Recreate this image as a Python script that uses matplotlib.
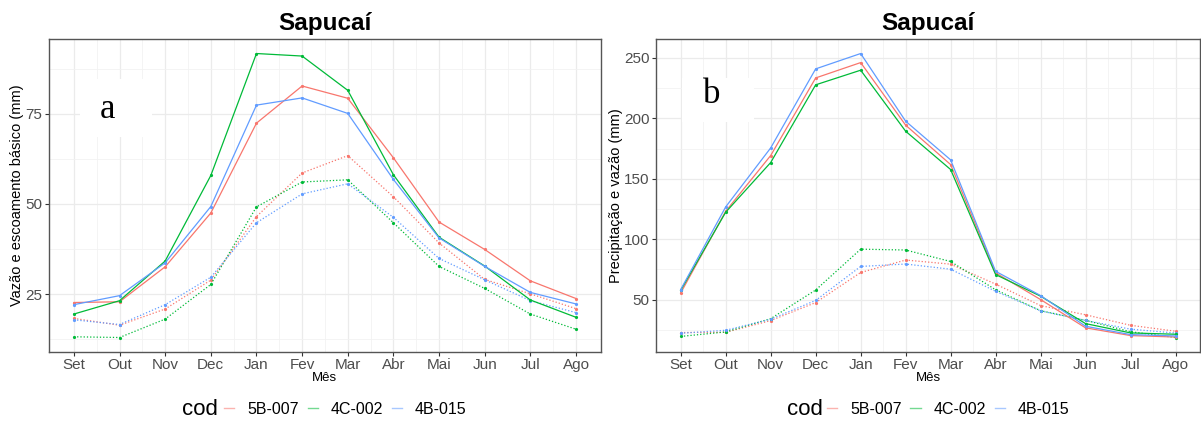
import matplotlib
matplotlib.use("Agg")
import matplotlib.pyplot as plt
from matplotlib.lines import Line2D
from matplotlib.patches import Rectangle
from matplotlib.ticker import FixedLocator

plt.rcParams['font.family'] = ['Liberation Sans', 'DejaVu Sans']

meses = ['Set', 'Out', 'Nov', 'Dec', 'Jan', 'Fev', 'Mar', 'Abr', 'Mai', 'Jun', 'Jul', 'Ago']
estacoes = ['5B-007', '4C-002', '4B-015']
cores = ['#F8766D', '#00BA38', '#619CFF']

# vazao media mensal (mm)
vazao_5B007 = [22.7, 22.9, 32.6, 47.5, 72.4, 82.7, 79.3, 62.8, 45.0, 37.4, 28.7, 23.8]
vazao_4C002 = [19.5, 23.2, 34.2, 57.9, 91.7, 91.0, 81.5, 58.1, 40.8, 32.8, 23.4, 18.6]
vazao_4B015 = [22.1, 24.6, 33.7, 49.3, 77.4, 79.4, 75.1, 56.8, 40.6, 32.7, 25.5, 22.3]

# escoamento basico (mm)
base_5B007 = [18.3, 16.4, 20.9, 28.9, 46.5, 58.6, 63.4, 52.0, 39.2, 29.1, 25.1, 21.0]
base_4C002 = [13.2, 13.0, 18.1, 27.7, 49.2, 56.1, 56.7, 44.8, 32.7, 26.6, 19.5, 15.3]
base_4B015 = [17.9, 16.6, 22.1, 29.7, 44.8, 52.8, 55.6, 46.3, 34.9, 29.0, 23.2, 19.9]

# precipitacao media mensal (mm)
prec_5B007 = [55.5, 123.1, 169.2, 233.4, 246.1, 194.3, 161.7, 72.1, 50.0, 26.6, 20.2, 19.0]
prec_4C002 = [57.7, 122.3, 163.4, 227.7, 239.8, 189.3, 157.6, 70.7, 52.8, 30.1, 22.4, 21.3]
prec_4B015 = [58.3, 126.7, 175.5, 240.9, 253.6, 197.6, 165.6, 73.4, 53.3, 27.9, 21.0, 19.9]

vazao = [vazao_5B007, vazao_4C002, vazao_4B015]
base = [base_5B007, base_4C002, base_4B015]
prec = [prec_5B007, prec_4C002, prec_4B015]

x = list(range(1, 13))


def painel(ax, solidas, pontilhadas, yticks, yminor, ylabel, letra, caixa, pos_letra):
    for serie, cor in zip(pontilhadas, cores):
        ax.plot(x, serie, color=cor, lw=0.9, ls=(0, (1, 1.6)), marker='o', ms=2.3,
                mec='none', zorder=3)
    for serie, cor in zip(solidas, cores):
        ax.plot(x, serie, color=cor, lw=0.9, marker='o', ms=2.3, mec='none', zorder=4)
    ax.margins(x=0.05, y=0.05)
    ax.set_xticks(x)
    ax.set_xticklabels(meses)
    ax.xaxis.set_minor_locator(FixedLocator([i + 0.5 for i in range(1, 12)]))
    ax.set_yticks(yticks)
    ax.yaxis.set_minor_locator(FixedLocator(yminor))
    ax.grid(which='major', color='#EBEBEB', lw=0.9)
    ax.grid(which='minor', color='#F2F2F2', lw=0.6)
    ax.set_axisbelow(True)
    ax.tick_params(which='major', length=3, width=0.8, color='#333333', pad=1.5,
                   labelsize=11, labelcolor='#4D4D4D')
    ax.tick_params(which='minor', length=0)
    for s in ax.spines.values():
        s.set_color('#555555')
        s.set_linewidth(1.0)
    ax.set_ylabel(ylabel, fontsize=10.5, labelpad=1)
    ax.set_xlabel('Mês', fontsize=9.5, labelpad=0)
    ax.set_title('Sapucaí', fontsize=17.5, fontweight='bold', pad=7)
    # caixa branca sob a letra do painel
    ax.add_patch(Rectangle((caixa[0], caixa[1]), caixa[2], caixa[3], transform=ax.transAxes,
                           facecolor='white', edgecolor='none', zorder=1.5))
    ax.text(pos_letra[0], pos_letra[1], letra, transform=ax.transAxes, fontsize=25,
            family='Liberation Serif', ha='center', va='center', zorder=5)
    # legenda
    handles = [Line2D([], [], color=c, lw=1.0, alpha=0.55) for c in cores]
    ax.legend(handles, estacoes, loc='center', bbox_to_anchor=(0.537, -0.184),
              ncol=3, frameon=False, fontsize=11.5, handlelength=0.65,
              handletextpad=0.8, columnspacing=0.55)
    bb = ax.get_position()
    fig.text(bb.x0 + 0.307 * bb.width, 0.028, 'cod', fontsize=16,
             ha='right', va='center')


fig = plt.figure(figsize=(12.01, 4.21), dpi=100)
ax1 = fig.add_axes([0.0406, 0.1646, 0.4599, 0.742])
ax2 = fig.add_axes([0.5462, 0.1646, 0.4532, 0.742])

painel(ax1, vazao, base, [25, 50, 75], [12.5, 37.5, 62.5, 87.5],
       'Vazão e escoamento básico (mm)', 'a',
       (0.057, 0.687, 0.130, 0.186), (0.106, 0.774))
painel(ax2, prec, vazao, [50, 100, 150, 200, 250], [25, 75, 125, 175, 225],
       'Precipitação e vazão (mm)', 'b',
       (0.048, 0.735, 0.132, 0.141), (0.102, 0.822))

fig.savefig('out.png', dpi=100)
